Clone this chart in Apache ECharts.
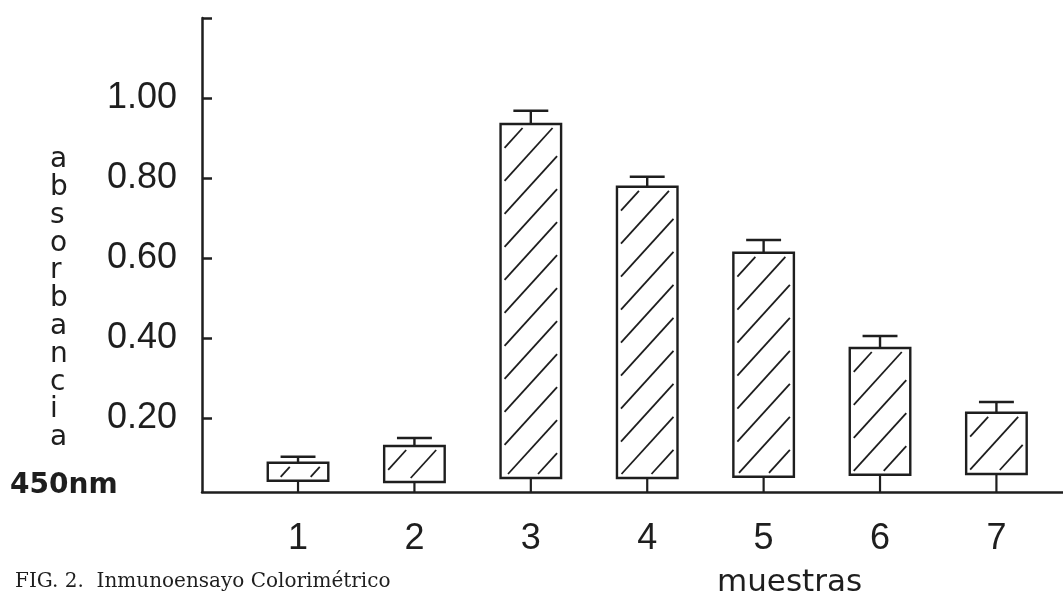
<!DOCTYPE html>
<html>
<head>
<meta charset="utf-8">
<script src="https://cdn.jsdelivr.net/npm/echarts@6/dist/echarts.min.js"></script>
<style>
html,body{margin:0;padding:0;background:#fff;}
#c{width:1063px;height:596px;}
</style>
</head>
<body>
<div id="c"></div>
<script>
// ---- data ----
var categories = ['1', '2', '3', '4', '5', '6', '7'];
var barBase  = [0.043, 0.040, 0.050, 0.050, 0.053, 0.058, 0.060];
var barTop   = [0.088, 0.130, 0.935, 0.778, 0.613, 0.375, 0.213];
var errUpper = [0.103, 0.150, 0.968, 0.803, 0.645, 0.405, 0.240];
var yTicks = [0.2, 0.4, 0.6, 0.8, 1.0, 1.2];
var yTickLabels = ['0.20', '0.40', '0.60', '0.80', '1.00', ''];
var yAxisLetters = ['a','b','s','o','r','b','a','n','c','i','a'];
var yUnit = '450nm';
var xName = 'muestras';
var caption = 'FIG. 2.  Inmunoensayo Colorimétrico';

var Y_MIN = 0.015, Y_MAX = 1.2;
var INK = '#1e1e1e';

var seriesData = categories.map(function (c, i) {
  return [i + 1, barBase[i], barTop[i], errUpper[i]];
});

function renderItem(params, api) {
  var x = api.value(0);
  var pBase = api.coord([x, api.value(1)]);
  var pTop = api.coord([x, api.value(2)]);
  var pErr = api.coord([x, api.value(3)]);
  var pAxis = api.coord([x, Y_MIN]);
  var w = api.size([0.52, 0])[0];
  var capW = api.size([0.3, 0])[0];
  var cx = pTop[0];
  var x0 = cx - w / 2, x1 = cx + w / 2, y0 = pTop[1], y1 = pBase[1];
  var children = [];
  children.push({
    type: 'rect',
    shape: { x: x0, y: y0, width: w, height: y1 - y0 },
    style: { fill: '#fff', stroke: INK, lineWidth: 2.4 }
  });
  // hatching "/" lines clipped to inner rect
  var m = 1.1, step = 33, ins = 4;
  var ix0 = x0 + ins, ix1 = x1 - ins, iy0 = y0 + ins, iy1 = y1 - ins;
  if (iy1 > iy0) {
    var cStart = iy0 + m * ix0, cEnd = iy1 + m * ix1;
    for (var c = cStart + step * 0.6; c < cEnd; c += step) {
      var xa = Math.max(ix0, (c - iy1) / m);
      var xb = Math.min(ix1, (c - iy0) / m);
      if (xb - xa > 2) {
        children.push({
          type: 'line',
          shape: { x1: xa, y1: c - m * xa, x2: xb, y2: c - m * xb },
          style: { stroke: INK, lineWidth: 1.8 }
        });
      }
    }
  }
  // error bar
  children.push({ type: 'line', shape: { x1: cx, y1: y0, x2: cx, y2: pErr[1] }, style: { stroke: INK, lineWidth: 2.4 } });
  children.push({ type: 'line', shape: { x1: cx - capW / 2, y1: pErr[1], x2: cx + capW / 2, y2: pErr[1] }, style: { stroke: INK, lineWidth: 2.6 } });
  // stub to axis
  children.push({ type: 'line', shape: { x1: cx, y1: y1, x2: cx, y2: pAxis[1] }, style: { stroke: INK, lineWidth: 2.2 } });
  return { type: 'group', children: children };
}

var chart = echarts.init(document.getElementById('c'), null, { renderer: 'canvas' });
chart.setOption({
  backgroundColor: '#fff',
  animation: false,
  grid: { left: 202, right: 0, top: 18, bottom: 104, outerBoundsMode: 'none' },
  xAxis: {
    type: 'value', min: 0.175, max: 7.572,
    axisLine: { show: true, onZero: false, lineStyle: { color: INK, width: 2.5 } },
    axisTick: { show: false },
    splitLine: { show: false },
    axisLabel: {
      customValues: categories.map(function (c, i) { return i + 1; }),
      formatter: function (v) { return categories[Math.round(v) - 1]; },
      fontFamily: 'Liberation Sans', fontSize: 36, color: INK, margin: 29
    }
  },
  yAxis: {
    type: 'value', min: Y_MIN, max: Y_MAX,
    axisLine: { show: true, onZero: false, lineStyle: { color: INK, width: 2.5 } },
    axisTick: { show: true, inside: true, length: 10, customValues: yTicks, lineStyle: { color: INK, width: 2.5 } },
    splitLine: { show: false },
    axisLabel: {
      customValues: yTicks.slice(0, 5),
      formatter: function (v) {
        for (var i = 0; i < yTicks.length; i++) { if (Math.abs(yTicks[i] - v) < 1e-6) return yTickLabels[i]; }
        return '';
      },
      fontFamily: 'Liberation Sans', fontSize: 36, color: INK, margin: 25
    }
  },
  graphic: [
    { type: 'text', left: 50, top: 146, style: { text: yAxisLetters.join('\n'), fontFamily: 'DejaVu Sans', fontSize: 28, lineHeight: 27.8, fill: INK, align: 'center' } },
    { type: 'text', left: 10, top: 472, style: { text: yUnit, fontFamily: 'DejaVu Sans', fontWeight: 'bold', fontSize: 28, fill: INK } },
    { type: 'text', left: 717, top: 567, style: { text: xName, fontFamily: 'DejaVu Sans', fontSize: 31, fill: INK } },
    { type: 'text', left: 15, top: 572, style: { text: caption, fontFamily: 'DejaVu Serif', fontSize: 20, fill: INK } }
  ],
  series: [{
    type: 'custom',
    renderItem: renderItem,
    data: seriesData,
    encode: { x: 0, y: [1, 2, 3] },
    clip: false
  }]
});
</script>
</body>
</html>
